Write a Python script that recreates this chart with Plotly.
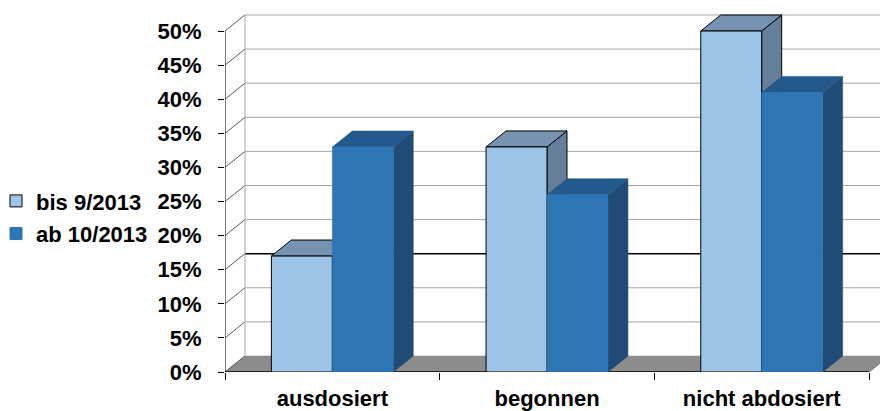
import plotly.graph_objects as go

# ---- data ----
CATEGORIES = ["ausdosiert", "begonnen", "nicht abdosiert"]
SERIES_NAMES = ["bis 9/2013", "ab 10/2013"]
BIS_9_2013 = [17, 33, 50]
AB_10_2013 = [33, 26, 41]
Y_TICKS = [0, 5, 10, 15, 20, 25, 30, 35, 40, 45, 50]

# ---- styling / geometry ----
FONT = "Liberation Sans, Arial, sans-serif"
DX = 0.093      # depth offset in category units
DY = 2.35       # depth offset in value units (%)
BAR_W = 0.284
X_MIN, X_MAX = -0.5, 2.551
Y_MAX = 54.55
FACE = {
    0: dict(front="#9DC3E6", top="#7694B2", side="#66809B", line="#000000", lw=1),
    1: dict(front="#2E75B6", top="#23598C", side="#1F4B74", line=None, lw=0),
}

fig = go.Figure()


def poly(xs, ys, fill, line=None, lw=0):
    fig.add_trace(go.Scatter(
        x=xs + [xs[0]], y=ys + [ys[0]], mode="lines", fill="toself",
        fillcolor=fill, line=dict(color=line if line else fill, width=lw if line else 0.5),
        hoverinfo="skip", showlegend=False))


def lines(xs, ys, color, width=1):
    fig.add_trace(go.Scatter(x=xs, y=ys, mode="lines",
                             line=dict(color=color, width=width),
                             hoverinfo="skip", showlegend=False))


# floor
x_end = len(CATEGORIES) - 0.5
poly([X_MIN, x_end, x_end + DX, X_MIN + DX], [0, 0, DY, DY], "#8C8C8C")

# wall slants and back-wall gridlines
sx, sy, gx, gy = [], [], [], []
for v in Y_TICKS:
    sx += [X_MIN, X_MIN + DX, None]
    sy += [v, v + DY, None]
    if v in (0, 15):
        continue
    gx += [X_MIN + DX, X_MAX, None]
    gy += [v + DY, v + DY, None]
lines(gx, gy, "#A6A6A6")
lines([X_MIN + DX, X_MAX], [15 + DY, 15 + DY], "#000000", 1.5)
lines(sx, sy, "#5A5A5A")
lines([X_MIN + DX, X_MIN + DX], [DY, Y_TICKS[-1] + DY], "#A6A6A6")
lines([X_MIN, X_MIN], [0, Y_TICKS[-1]], "#000000")
lines([X_MIN, x_end], [0, 0], "#000000", 1.5)
lines([x_end, x_end + DX], [0, DY], "#7F7F7F")

# bars
for i, _c in enumerate(CATEGORIES):
    for s, vals in enumerate([BIS_9_2013, AB_10_2013]):
        v = vals[i]
        x0 = i - BAR_W + s * BAR_W
        x1 = x0 + BAR_W
        f = FACE[s]
        poly([x1, x1 + DX, x1 + DX, x1], [0, DY, v + DY, v], f["side"], f["line"], f["lw"])
        poly([x0, x1, x1 + DX, x0 + DX], [v, v, v + DY, v + DY], f["top"], f["line"], f["lw"])
        poly([x0, x1, x1, x0], [0, 0, v, v], f["front"], f["line"], f["lw"])

# legend entries
for s, name in enumerate(SERIES_NAMES):
    fig.add_trace(go.Scatter(
        x=[None], y=[None], mode="markers", name=name, legendgroup=name,
        marker=dict(symbol="square", size=12, color=FACE[s]["front"],
                    line=dict(color="#000000" if s == 0 else FACE[s]["front"], width=1))))

fig.update_layout(
    width=880, height=411,
    margin=dict(l=225, r=0, t=0, b=39, autoexpand=False),
    paper_bgcolor="white", plot_bgcolor="white",
    font=dict(family=FONT, size=22, color="black", weight="bold"),
    showlegend=True,
    legend=dict(x=-0.3496, xanchor="left", y=0.415, yanchor="middle",
                font=dict(family=FONT, size=22, color="black", weight="bold"),
                tracegroupgap=1, itemwidth=30, bgcolor="rgba(0,0,0,0)"),
    xaxis=dict(range=[X_MIN, X_MAX], tickmode="array", tickvals=list(range(len(CATEGORIES))),
               ticktext=CATEGORIES, ticks="", showgrid=False, zeroline=False, showline=False,
               ticklabelstandoff=11,
               minor=dict(tickmode="array", tickvals=[k - 0.5 for k in range(len(CATEGORIES) + 1)],
                          ticks="outside", ticklen=7, tickcolor="black", tickwidth=1, showgrid=False)),
    yaxis=dict(range=[0, Y_MAX], tickmode="array", tickvals=Y_TICKS,
               ticktext=[f"{v}%" for v in Y_TICKS], ticks="outside", ticklen=6,
               tickcolor="black", showgrid=False, zeroline=False, showline=False,
               ticklabelstandoff=12),
)

fig.write_html("out.html")
